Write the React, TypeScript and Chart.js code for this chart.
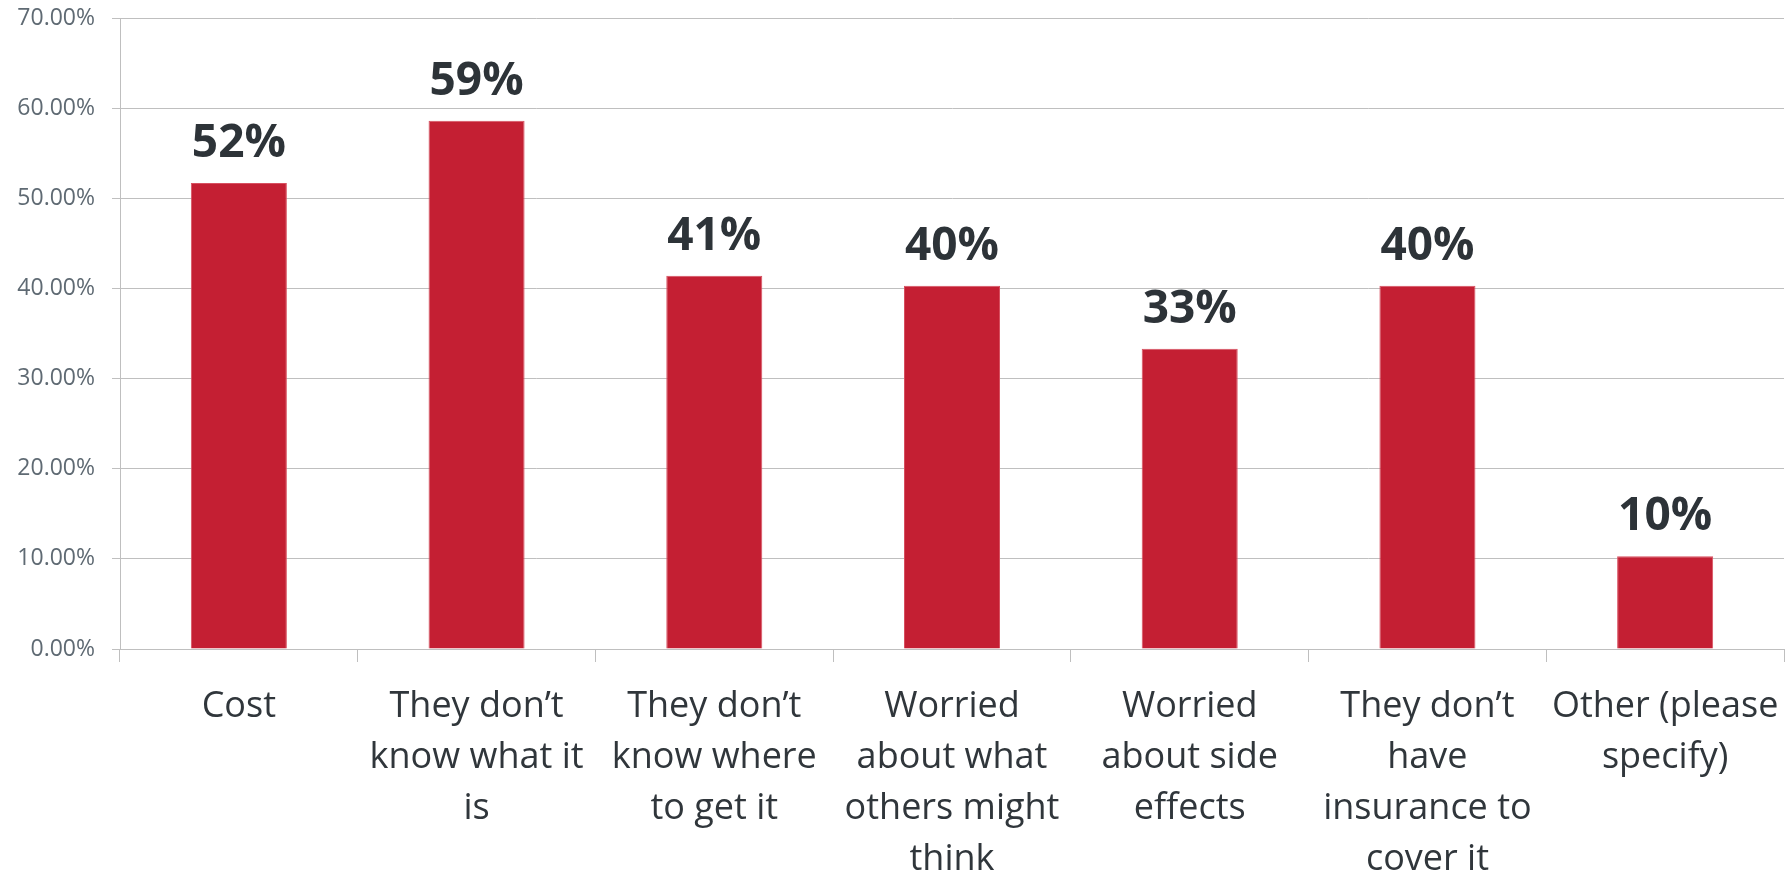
import React, { useEffect, useRef } from "react";
import { Chart, registerables } from "chart.js";

Chart.register(...registerables);

const categories: string[][] = [
  ["Cost"],
  ["They don’t", "know what it", "is"],
  ["They don’t", "know where", "to get it"],
  ["Worried", "about what", "others might", "think"],
  ["Worried", "about side", "effects"],
  ["They don’t", "have", "insurance to", "cover it"],
  ["Other (please", "specify)"],
];

const values: number[] = [51.7, 58.6, 41.4, 40.3, 33.3, 40.3, 10.3];

const yTicks: number[] = [0, 10, 20, 30, 40, 50, 60, 70];

const W = 1787;
const H = 878;

const valueLabels = {
  id: "valueLabels",
  afterDatasetsDraw(chart: any) {
    const ctx = chart.ctx;
    const meta = chart.getDatasetMeta(0);
    ctx.save();
    ctx.font = "bold 46px 'Open Sans'";
    ctx.fillStyle = "#2d3338";
    ctx.textAlign = "center";
    ctx.textBaseline = "alphabetic";
    meta.data.forEach((bar: any, i: number) => {
      const v = chart.data.datasets[0].data[i] as number;
      ctx.fillText(Math.round(v) + "%", bar.x, bar.y - 26);
    });
    ctx.restore();
  },
};

export default function App() {
  const ref = useRef<HTMLCanvasElement>(null);

  useEffect(() => {
    if (!ref.current) return;
    const chart = new Chart(ref.current, {
      type: "bar",
      data: {
        labels: categories,
        datasets: [
          {
            data: values,
            backgroundColor: "#c41f33",
            borderColor: "#d85060",
            borderWidth: 1,
            barPercentage: 0.404,
            categoryPercentage: 1,
          },
        ],
      },
      options: {
        responsive: false,
        animation: false,
        layout: { padding: { left: 0, right: 3, top: 18, bottom: 0 } },
        plugins: {
          legend: { display: false },
          tooltip: { enabled: false },
        },
        scales: {
          x: {
            afterFit: (scale: any) => {
              scale.height = H - 649;
              scale.paddingLeft = 0;
              scale.paddingRight = 0;
            },
            grid: {
              display: true,
              offset: true,
              drawOnChartArea: false,
              drawTicks: true,
              tickLength: 13,
              color: "#bfbfbf",
              lineWidth: 1,
            },
            border: { display: true, color: "#bfbfbf", width: 1 },
            ticks: {
              autoSkip: false,
              maxRotation: 0,
              minRotation: 0,
              padding: 19,
              color: "#30363b",
              font: { family: "'Open Sans'", size: 36, lineHeight: 1.42 },
            },
          },
          y: {
            min: 0,
            max: 70,
            afterFit: (scale: any) => {
              scale.width = 120;
              scale.paddingTop = 0;
              scale.paddingBottom = 0;
            },
            afterBuildTicks: (scale: any) => {
              scale.ticks = yTicks.map((v) => ({ value: v }));
            },
            grid: {
              color: "#bfbfbf",
              lineWidth: 1,
              drawTicks: true,
              tickLength: 8,
            },
            border: { display: true, color: "#bfbfbf", width: 1 },
            ticks: {
              padding: 17,
              color: "#5f6a73",
              font: { family: "'Open Sans'", size: 23 },
              callback: (v: any) => Number(v).toFixed(2) + "%",
            },
          },
        },
      },
      plugins: [valueLabels],
    });
    return () => chart.destroy();
  }, []);

  return (
    <div style={{ position: "absolute", left: 0, top: 0, width: W, height: H, background: "#fff" }}>
      <canvas ref={ref} width={W} height={H} style={{ display: "block" }} />
    </div>
  );
}
